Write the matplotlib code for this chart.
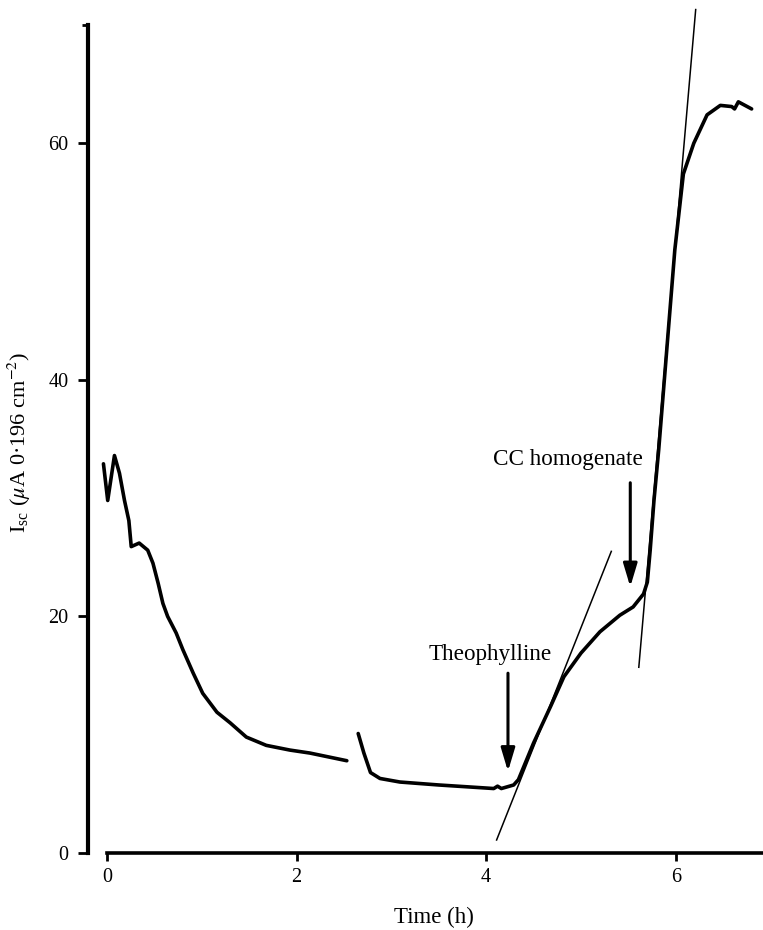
import matplotlib
matplotlib.use('Agg')
import matplotlib.pyplot as plt

plt.rcParams['font.family'] = ['Liberation Serif', 'DejaVu Serif']
plt.rcParams['mathtext.fontset'] = 'stix'

# trace before the gap
t1 = [-0.037, 0.008, 0.079, 0.132, 0.185, 0.231, 0.256, 0.34, 0.43, 0.485, 0.54,
      0.59, 0.64, 0.73, 0.80, 0.91, 1.01, 1.16, 1.30, 1.47, 1.68, 1.93, 2.14,
      2.35, 2.53]
isc1 = [32.9, 29.8, 33.6, 32.1, 29.8, 28.1, 25.9, 26.2, 25.6, 24.5, 22.8,
        21.1, 20.0, 18.6, 17.2, 15.2, 13.5, 11.9, 11.0, 9.8, 9.1, 8.7, 8.45,
        8.1, 7.8]

# trace after the gap
t2 = [2.65, 2.71, 2.78, 2.88, 3.09, 3.5, 4.08, 4.12, 4.16, 4.29, 4.34, 4.50,
      4.68, 4.82, 5.0, 5.20, 5.41, 5.55, 5.66, 5.70, 5.73, 5.77, 5.82, 5.99,
      6.08, 6.19, 6.33, 6.47, 6.59, 6.62, 6.66, 6.80]
isc2 = [10.1, 8.45, 6.8, 6.3, 6.0, 5.75, 5.45, 5.65, 5.45, 5.75, 6.2, 9.3,
        12.4, 14.9, 16.9, 18.7, 20.1, 20.8, 21.9, 22.9, 25.6, 29.8, 34.1, 51.0,
        57.4, 60.0, 62.4, 63.2, 63.1, 62.9, 63.5, 62.9]

# tangent lines
tan1_t = [4.11, 5.32]
tan1_y = [1.1, 25.5]
tan2_t = [5.61, 6.21]
tan2_y = [15.7, 71.3]

xticks = [0, 2, 4, 6]
yticks = [0, 20, 40, 60]

fig = plt.figure(figsize=(7.63, 9.30), dpi=100)
ax = fig.add_axes([88 / 763, 1 - 853 / 930, 675 / 763, 845.8 / 930])

ax.plot(t1, isc1, color='black', lw=2.6, solid_capstyle='round', solid_joinstyle='round')
ax.plot(t2, isc2, color='black', lw=2.6, solid_capstyle='round', solid_joinstyle='round')
ax.plot(tan1_t, tan1_y, color='black', lw=1.1)
ax.plot(tan2_t, tan2_y, color='black', lw=1.1, clip_on=False)

arrow = dict(arrowstyle='-|>,head_length=1.0,head_width=0.3', color='black',
             lw=2.2, mutation_scale=14, shrinkA=0, shrinkB=0)
ax.annotate('', xy=(4.23, 6.9), xytext=(4.23, 15.2), arrowprops=arrow)
ax.annotate('', xy=(5.52, 22.5), xytext=(5.52, 31.3), arrowprops=arrow)
ax.text(4.04, 16.3, 'Theophylline', ha='center', va='baseline', fontsize=16.7)
ax.text(4.865, 32.8, 'CC homogenate', ha='center', va='baseline', fontsize=16.7)

ax.set_xlim(-0.2, 6.92)
ax.set_ylim(0, 71.5)
ax.set_xticks(xticks)
ax.set_yticks(yticks)
ax.set_yticks([70], minor=True)
ax.tick_params(axis='both', which='major', labelsize=14.5, width=2, direction='out')
ax.tick_params(axis='x', length=6, pad=5)
ax.tick_params(axis='y', length=7, pad=7)
ax.tick_params(axis='y', which='minor', length=4, width=2)

for s in ['top', 'right']:
    ax.spines[s].set_visible(False)
ax.spines['left'].set_linewidth(3)
ax.spines['bottom'].set_linewidth(2.6)
ax.spines['left'].set_bounds(0, 70)
ax.spines['bottom'].set_bounds(0, 6.92)

ax.set_xlabel('Time (h)', fontsize=16.5)
ax.xaxis.set_label_coords(0.513, -0.064)
ax.set_ylabel(r'I$_{\mathregular{sc}}$ ($\mu$A 0·196 cm$^{-2}$)', fontsize=16)
ax.yaxis.set_label_coords(-0.082, 0.485)

fig.savefig('out.png', dpi=100)
